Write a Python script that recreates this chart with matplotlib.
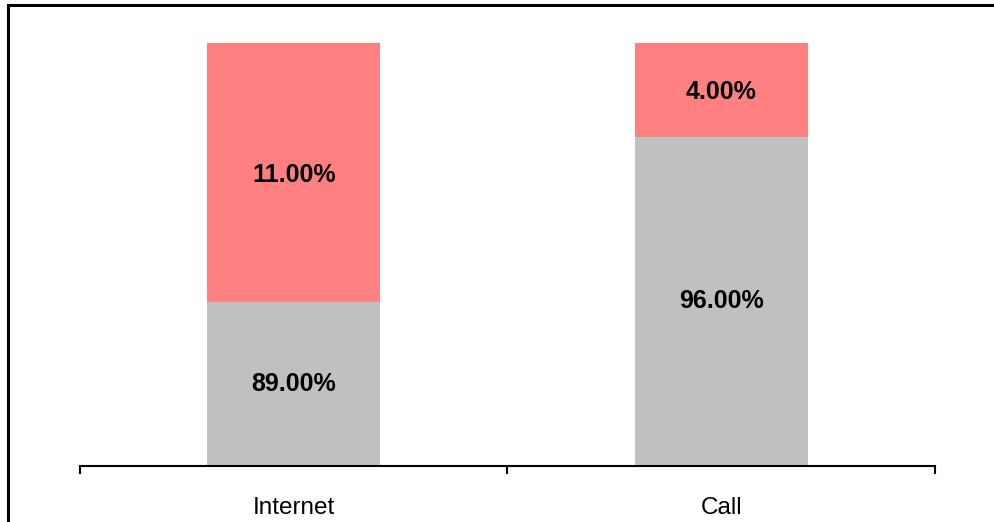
import matplotlib
matplotlib.use("Agg")
import matplotlib.pyplot as plt
from matplotlib.patches import Rectangle

categories = ["Internet", "Call"]
grey_values = [0.89, 0.96]
red_values = [0.11, 0.04]
grey_labels = ["89.00%", "96.00%"]
red_labels = ["11.00%", "4.00%"]

plt.rcParams['font.family'] = ['Liberation Sans', 'DejaVu Sans']

fig = plt.figure(figsize=(9.95, 5.22), dpi=100)
W, H = 995, 522
ax = fig.add_axes([80 / W, 1 - 466 / H, (935 - 80) / W, (466 - 43) / H])

ymin, ymax = 0.82, 1.0
x = list(range(len(categories)))
width = 0.405
ax.bar(x, grey_values, width=width, color="#C0C0C0", bottom=0)
ax.bar(x, red_values, width=width, color="#FF8080", bottom=grey_values)
ax.set_ylim(ymin, ymax)
ax.set_xlim(-0.5, len(categories) - 0.5)

for i in x:
    g0 = 0
    g1 = grey_values[i]
    ax.text(i, (max(g0, ymin) + min(g1, ymax)) / 2, grey_labels[i], ha="center", va="center",
            fontsize=18, fontweight="bold", color="black")
    r0 = grey_values[i]
    r1 = grey_values[i] + red_values[i]
    ax.text(i, (max(r0, ymin) + min(r1, ymax)) / 2 - 0.001, red_labels[i], ha="center", va="center",
            fontsize=18, fontweight="bold", color="black")

for s in ["top", "right", "left"]:
    ax.spines[s].set_visible(False)
ax.spines["bottom"].set_linewidth(1.5)
ax.set_yticks([])
ax.set_xticks([-0.5 + k for k in range(len(categories) + 1)])
ax.set_xticklabels([])
ax.set_xticks(x, minor=True)
ax.set_xticklabels(categories, minor=True, fontsize=17.5)
ax.tick_params(axis="x", which="major", length=6, width=1.5, direction="out")
ax.tick_params(axis="x", which="minor", length=0, pad=22)

# outer frame (extends beyond figure edges)
fig.patches.append(Rectangle((8 / W, -0.1), 1.2, 1 - 5 / H + 0.1, transform=fig.transFigure,
                             fill=False, edgecolor="black", linewidth=2.2))

fig.savefig("out.png", dpi=100)
